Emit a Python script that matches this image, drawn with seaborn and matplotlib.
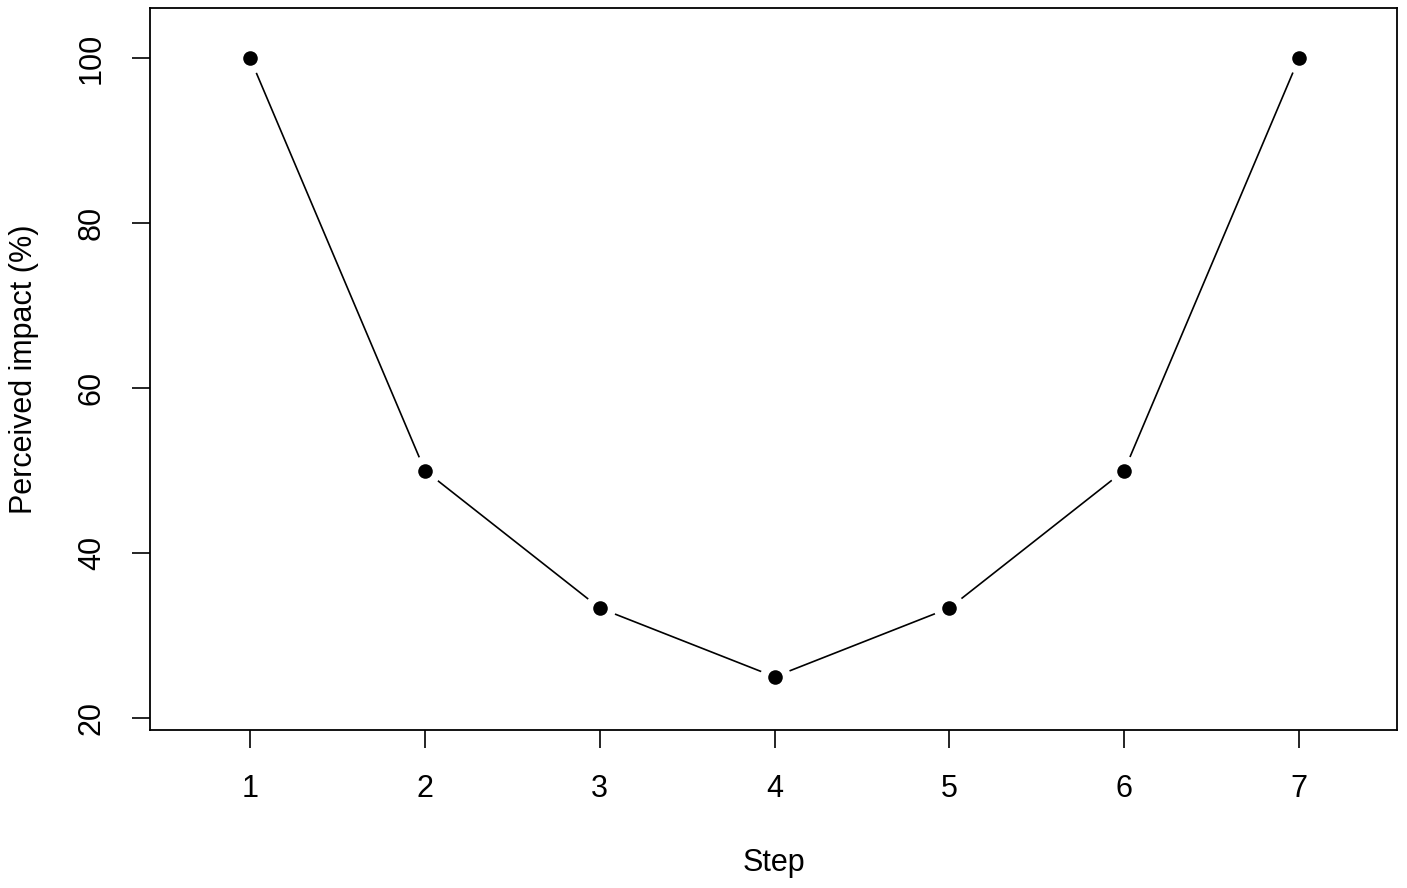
import matplotlib
matplotlib.use("Agg")
import matplotlib.pyplot as plt
import seaborn as sns
import pandas as pd

steps = [1, 2, 3, 4, 5, 6, 7]
impact = [100, 50, 33.33, 25, 33.33, 50, 100]
y_ticks = [20, 40, 60, 80, 100]

df = pd.DataFrame({"Step": steps, "Impact": impact})

sns.set_style("ticks")
plt.rcParams["font.family"] = ["Liberation Sans", "DejaVu Sans"]
plt.rcParams["text.color"] = "black"
plt.rcParams["axes.labelcolor"] = "black"
plt.rcParams["xtick.color"] = "black"
plt.rcParams["ytick.color"] = "black"

fig = plt.figure(figsize=(14.07, 8.88), dpi=100)
ax = fig.add_axes([150/1407, 1-730/888, (1397-150)/1407, (730-8)/888])

sns.lineplot(data=df, x="Step", y="Impact", color="black", linewidth=1.2, ax=ax, zorder=1)
sns.scatterplot(data=df, x="Step", y="Impact", color="white", s=500, linewidth=0, ax=ax, zorder=2)
sns.scatterplot(data=df, x="Step", y="Impact", color="black", s=110, linewidth=0, ax=ax, zorder=3)

ax.set_xlim(0.428, 7.56)
ax.set_ylim(18.55, 106.06)
ax.set_xticks(steps)
ax.set_yticks(y_ticks)
ax.set_yticklabels([str(v) for v in y_ticks], rotation=90, va="center")
ax.tick_params(axis="both", direction="out", length=13, width=1.2, labelsize=22,
               color="black", labelcolor="black")
ax.tick_params(axis="x", pad=19)
ax.tick_params(axis="y", pad=18)
for s in ax.spines.values():
    s.set_linewidth(1.3)
    s.set_color("black")
ax.set_xlabel("Step", fontsize=22, labelpad=31, color="black")
ax.set_ylabel("Perceived impact (%)", fontsize=22, labelpad=27, color="black")

fig.savefig("out.png", dpi=100)
